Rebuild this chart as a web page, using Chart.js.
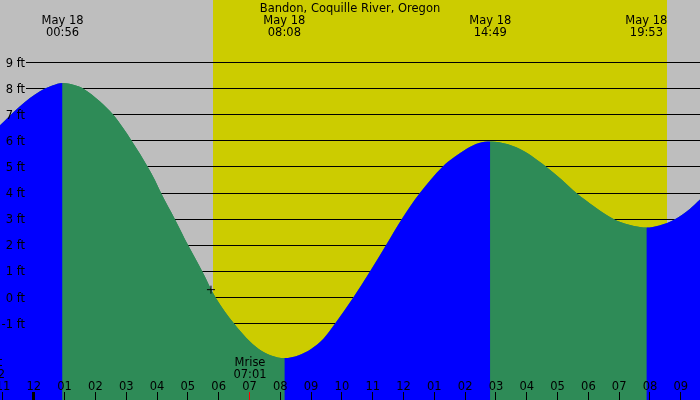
<!DOCTYPE html>
<html>
<head>
<meta charset="utf-8">
<title>Bandon, Coquille River, Oregon</title>
<script src="https://cdn.jsdelivr.net/npm/chart.js@4/dist/chart.umd.min.js"></script>
<style>
  html, body { margin: 0; padding: 0; background: #bebebe; overflow: hidden; }
  canvas { display: block; }
</style>
</head>
<body>
<canvas id="tide-chart" width="700" height="400"></canvas>
<script>
var stationName = 'Bandon, Coquille River, Oregon';

// tide curve: hours after midnight May 18, height in ft
var tideHours = [-1.1, -0.45, 0.2, 0.6, 0.933,
  1.28, 1.61, 2.15, 2.58, 2.9, 3.18, 3.45, 3.7, 3.93, 4.13, 4.58, 5.01, 5.47, 5.9, 6.5, 6.9, 7.3, 7.7, 8.133,
  8.6, 9.0, 9.4, 9.78, 10.37, 10.91, 11.43, 11.94, 12.53, 13.26, 13.65, 14.05, 14.45, 14.817,
  15.39, 15.93, 16.37, 16.6, 17.12, 17.61, 18.2, 18.83, 19.29, 19.67, 19.883,
  20.3, 20.81, 21.3, 21.65];
var tideFeet = [6.6, 7.33, 7.9, 8.12, 8.22,
  8.15, 8.0, 7.51, 7.0, 6.49, 6.0, 5.5, 5.0, 4.5, 4.0, 3.0, 2.0, 1.0, 0.0, -1.0, -1.55, -1.97, -2.22, -2.32,
  -2.21, -1.97, -1.58, -1.0, 0.0, 1.0, 2.0, 3.0, 4.0, 5.0, 5.38, 5.7, 5.92, 5.98,
  5.87, 5.59, 5.24, 5.04, 4.53, 4.0, 3.48, 3.0, 2.8, 2.7, 2.68,
  2.76, 3.0, 3.4, 3.78];

// highs and lows
var extremaHours = [0.933, 8.133, 14.817, 19.883];
var extremaDates = ['May 18', 'May 18', 'May 18', 'May 18'];
var extremaTimes = ['00:56', '08:08', '14:49', '19:53'];

// height ticks
var feetTicks = [9, 8, 7, 6, 5, 4, 3, 2, 1, 0, -1];
var feetLabels = ['9 ft', '8 ft', '7 ft', '6 ft', '5 ft', '4 ft', '3 ft', '2 ft', '1 ft', '0 ft', '-1 ft'];

// hour ticks along the bottom
var hourTicks = [-1, 0, 1, 2, 3, 4, 5, 6, 7, 8, 9, 10, 11, 12, 13, 14, 15, 16, 17, 18, 19, 20, 21];
var hourLabels = ['11', '12', '01', '02', '03', '04', '05', '06', '07', '08', '09', '10', '11',
  '12', '01', '02', '03', '04', '05', '06', '07', '08', '09'];

// daylight and moon
var sunriseHour = 5.82;
var sunsetHour = 20.55;
var moonHours = [-1.47, 7.017];
var moonNames = ['Mset', 'Mrise'];
var moonTimes = ['22:32', '07:01'];

// the little cross on the curve
var markHours = [5.75];
var markFeet = [0.3];

var FONT = '11.5px "DejaVu Sans"';
var BLUE = '#0000ff';
var GREEN = '#2e8b57';

function px(v) {
  return Math.floor(v) + 0.5;
}

function tidePoints() {
  return tideHours.map(function(h, i) { return {x: h, y: tideFeet[i]}; });
}

var tidePainter = {
  id: 'tidePainter',
  beforeDraw: function(chart) {
    var ctx = chart.ctx;
    var xs = chart.scales.x;
    ctx.save();
    ctx.fillStyle = '#bebebe';
    ctx.fillRect(0, 0, chart.width, chart.height);
    var x0 = Math.round(xs.getPixelForValue(sunriseHour));
    var x1 = Math.round(xs.getPixelForValue(sunsetHour));
    ctx.fillStyle = '#cccc00';
    ctx.fillRect(x0, 0, x1 - x0, chart.height);
    ctx.restore();
  },
  beforeDatasetsDraw: function(chart) {
    // level lines sit behind the water
    var ctx = chart.ctx;
    var ys = chart.scales.y;
    ctx.save();
    ctx.strokeStyle = '#000';
    ctx.lineWidth = 1;
    for (var i = 0; i < feetTicks.length; i++) {
      var y = px(ys.getPixelForValue(feetTicks[i]));
      ctx.beginPath();
      ctx.moveTo(26, y);
      ctx.lineTo(chart.width, y);
      ctx.stroke();
    }
    ctx.restore();
  },
  afterDatasetsDraw: function(chart) {
    var ctx = chart.ctx;
    var xs = chart.scales.x;
    var ys = chart.scales.y;
    var i, x, y;
    ctx.save();
    ctx.font = FONT;
    ctx.fillStyle = '#000';
    ctx.textBaseline = 'alphabetic';

    ctx.textAlign = 'center';
    ctx.fillText(stationName, 350, 12);

    for (i = 0; i < extremaHours.length; i++) {
      x = xs.getPixelForValue(extremaHours[i]);
      ctx.fillText(extremaDates[i], x, 24);
      ctx.fillText(extremaTimes[i], x, 36);
    }

    ctx.textAlign = 'right';
    for (i = 0; i < feetTicks.length; i++) {
      y = ys.getPixelForValue(feetTicks[i]);
      ctx.fillText(feetLabels[i], 25, y + 4);
    }

    ctx.textAlign = 'center';
    ctx.strokeStyle = '#000';
    ctx.lineWidth = 1;
    for (i = 0; i < hourTicks.length; i++) {
      x = xs.getPixelForValue(hourTicks[i]);
      ctx.fillText(hourLabels[i], x, 390);
      if (hourTicks[i] % 24 === 0) {
        ctx.fillRect(Math.floor(x) - 1, 392, 3, 8);
      } else {
        ctx.beginPath();
        ctx.moveTo(px(x), 392);
        ctx.lineTo(px(x), 400);
        ctx.stroke();
      }
    }

    for (i = 0; i < moonHours.length; i++) {
      x = xs.getPixelForValue(moonHours[i]);
      ctx.fillStyle = '#000';
      ctx.fillText(moonNames[i], x, 366);
      ctx.fillText(moonTimes[i], x, 378);
      ctx.strokeStyle = '#ff0000';
      ctx.beginPath();
      ctx.moveTo(px(x), 392);
      ctx.lineTo(px(x), 400);
      ctx.stroke();
    }
    ctx.restore();
  }
};

var ctx = document.getElementById('tide-chart');
var tideChart = new Chart(ctx, {
  type: 'line',
  data: {
    // first dataset is drawn on top
    datasets: [
      {
        label: 'mark',
        data: markHours.map(function(h, i) { return {x: h, y: markFeet[i]}; }),
        showLine: false,
        fill: false,
        pointStyle: 'cross',
        pointRadius: 4,
        pointBorderColor: '#000',
        pointBorderWidth: 1,
        borderColor: '#000'
      },
      {
        label: 'tide',
        data: tidePoints(),
        fill: 'start',
        backgroundColor: GREEN,
        borderColor: 'rgba(0,0,0,0)',
        borderWidth: 0,
        pointRadius: 0,
        cubicInterpolationMode: 'monotone',
        segment: {
          // rising water blue, falling water green
          backgroundColor: function(c) {
            return c.p1.parsed.y > c.p0.parsed.y ? BLUE : GREEN;
          }
        }
      },
      {
        // plain underlay so the colour joins show no seam
        label: 'underlay',
        data: tidePoints(),
        fill: 'start',
        backgroundColor: GREEN,
        borderColor: 'rgba(0,0,0,0)',
        borderWidth: 0,
        pointRadius: 0,
        cubicInterpolationMode: 'monotone'
      }
    ]
  },
  options: {
    responsive: false,
    devicePixelRatio: 1,
    animation: false,
    events: [],
    layout: { padding: 0, autoPadding: false },
    plugins: {
      legend: { display: false },
      tooltip: { enabled: false }
    },
    scales: {
      x: { type: 'linear', min: -1.097, max: 21.623, display: false },
      y: { type: 'linear', min: -3.927, max: 11.398, display: false }
    }
  },
  plugins: [tidePainter]
});
</script>
</body>
</html>
